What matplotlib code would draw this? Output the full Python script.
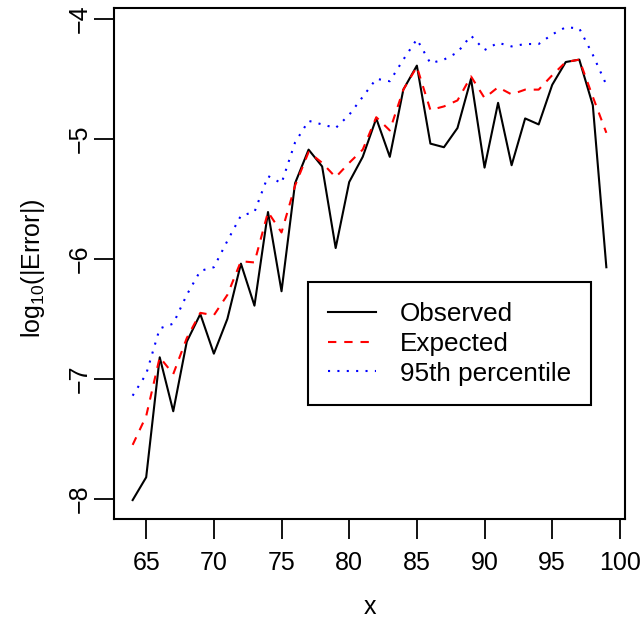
import numpy as np
import matplotlib
matplotlib.use("Agg")
import matplotlib.pyplot as plt

plt.rcParams["font.family"] = ["Liberation Sans", "DejaVu Sans"]

x = np.arange(64, 100)

observed = [-8.01, -7.82, -6.82, -7.27, -6.69, -6.46, -6.79, -6.50, -6.04, -6.39,
            -5.61, -6.27, -5.37, -5.09, -5.23, -5.91, -5.36, -5.15, -4.83, -5.15,
            -4.59, -4.39, -5.04, -5.07, -4.91, -4.50, -5.24, -4.70, -5.22, -4.83,
            -4.88, -4.55, -4.36, -4.34, -4.72, -6.07]

expected = [-7.55, -7.31, -6.82, -6.96, -6.66, -6.45, -6.47, -6.30, -6.02, -6.03,
            -5.61, -5.78, -5.39, -5.11, -5.20, -5.32, -5.20, -5.09, -4.82, -4.93,
            -4.59, -4.40, -4.76, -4.73, -4.68, -4.48, -4.66, -4.57, -4.63, -4.59,
            -4.59, -4.47, -4.36, -4.34, -4.65, -4.95]

pct95 = [-7.14, -6.96, -6.58, -6.54, -6.30, -6.10, -6.07, -5.85, -5.64, -5.61,
         -5.31, -5.37, -5.03, -4.85, -4.88, -4.91, -4.80, -4.65, -4.50, -4.52,
         -4.34, -4.17, -4.37, -4.34, -4.28, -4.14, -4.26, -4.20, -4.23, -4.21,
         -4.21, -4.13, -4.07, -4.08, -4.30, -4.55]

xticks = [65, 70, 75, 80, 85, 90, 95, 100]
yticks = [-8, -7, -6, -5, -4]

W, H = 641, 619
fig = plt.figure(figsize=(W / 100, H / 100), dpi=100, facecolor="white")
ax = fig.add_axes([113.7 / W, 1 - 519 / H, (625.3 - 113.7) / W, (519 - 8.3) / H])

ax.plot(x, observed, color="black", lw=1.5, label="Observed")
ax.plot(x, expected, color="#ff0000", lw=1.5, dashes=(4, 3.8), label="Expected")
ax.plot(x, pct95, color="#0000ff", lw=1.5, dashes=(1, 3.5), label="95th percentile")

# R-style 4% padding around the data range
allv = np.concatenate([observed, expected, pct95])
ymin, ymax = allv.min(), allv.max()
yr = ymax - ymin
ax.set_ylim(ymin - 0.04 * yr, ymax + 0.04 * yr)
xr = x.max() - x.min()
ax.set_xlim(x.min() - 0.04 * xr, x.max() + 0.04 * xr)

ax.set_xticks(xticks)
ax.set_yticks(yticks)
ax.set_yticklabels([str(v).replace("-", "\u2212") for v in yticks],
                   rotation=90, va="center")
ax.tick_params(direction="out", length=14.4, width=1.3, labelsize=18)
ax.tick_params(axis="x", pad=8.8)
ax.tick_params(axis="y", pad=1.4)

for s in ax.spines.values():
    s.set_linewidth(1.5)

ax.set_xlabel("x", fontsize=18, labelpad=14.5)
ax.set_ylabel(r"$\mathregular{log_{10}(|Error|)}$", fontsize=18, labelpad=15,
              y=0.4915)

leg = ax.legend(loc="upper left", bbox_to_anchor=(308.3 / W, 1 - 282.3 / H),
                bbox_transform=fig.transFigure, borderaxespad=0,
                fancybox=False, framealpha=1, edgecolor="black",
                fontsize=18.8, handlelength=1.85, handletextpad=0.9,
                labelspacing=0.22, borderpad=0.76)
leg.get_frame().set_linewidth(1.5)

fig.savefig("out.png", dpi=100, facecolor="white")
